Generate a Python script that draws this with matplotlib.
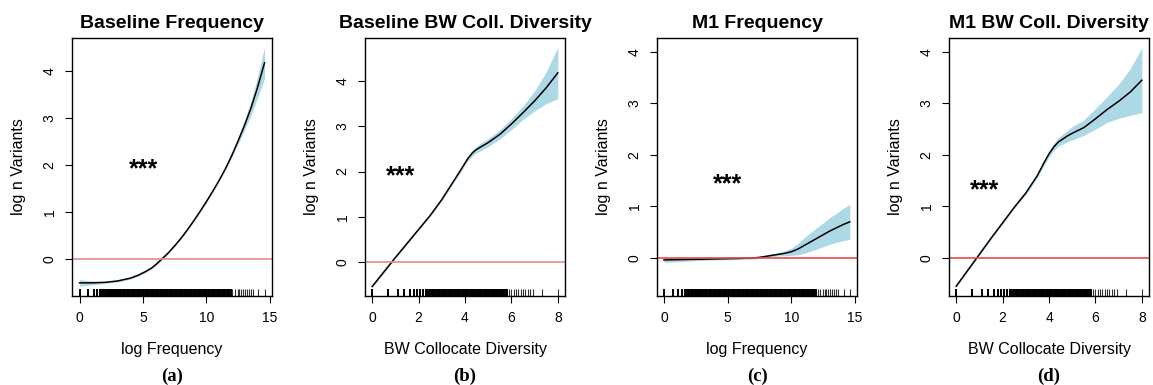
import matplotlib
matplotlib.use("Agg")
import matplotlib.pyplot as plt
import numpy as np

plt.rcParams['font.family'] = ['Liberation Sans', 'DejaVu Sans']

# panel (a) Baseline Frequency
a_x = [0, 1, 2, 3, 4, 4.6, 5.2, 5.7, 6.1, 6.5, 7, 7.5, 8, 8.5, 9, 9.5, 10, 10.5, 11, 11.5, 12, 12.5, 13, 13.5, 14, 14.58]
a_y = [-0.51, -0.51, -0.5, -0.47, -0.41, -0.35, -0.27, -0.19, -0.1, 0.0, 0.13, 0.28, 0.44, 0.62, 0.81, 1.01, 1.22, 1.44, 1.67, 1.92, 2.2, 2.51, 2.84, 3.2, 3.62, 4.17]
a_hw = [0.07, 0.04, 0.02, 0.02, 0.02, 0.02, 0.02, 0.02, 0.02, 0.02, 0.02, 0.02, 0.02, 0.02, 0.02, 0.02, 0.02, 0.02, 0.02, 0.03, 0.04, 0.06, 0.1, 0.15, 0.22, 0.33]

# panel (b) Baseline BW Coll. Diversity
b_x = [0, 0.5, 1, 1.5, 2, 2.5, 3, 3.5, 3.8, 4.1, 4.3, 4.45, 4.6, 4.8, 5, 5.5, 6, 6.5, 7, 7.5, 8]
b_y = [-0.54, -0.22, 0.1, 0.41, 0.72, 1.03, 1.38, 1.78, 2.02, 2.27, 2.4, 2.47, 2.52, 2.58, 2.64, 2.82, 3.05, 3.3, 3.56, 3.85, 4.18]
b_hw = [0.02, 0.02, 0.02, 0.02, 0.02, 0.02, 0.02, 0.03, 0.04, 0.05, 0.06, 0.07, 0.08, 0.085, 0.09, 0.1, 0.12, 0.15, 0.22, 0.35, 0.57]

# panel (c) M1 Frequency
c_x = [0, 1, 2, 3, 4, 5, 6, 7, 7.5, 8, 8.5, 9, 9.5, 10, 10.5, 11, 11.5, 12, 12.5, 13, 13.5, 14, 14.58]
c_y = [-0.04, -0.035, -0.03, -0.025, -0.02, -0.015, -0.01, 0.0, 0.01, 0.03, 0.05, 0.07, 0.09, 0.12, 0.17, 0.24, 0.31, 0.38, 0.45, 0.52, 0.58, 0.64, 0.7]
c_hw = [0.05, 0.04, 0.03, 0.025, 0.02, 0.02, 0.02, 0.02, 0.02, 0.02, 0.03, 0.03, 0.05, 0.07, 0.11, 0.15, 0.18, 0.21, 0.23, 0.26, 0.28, 0.31, 0.34]

# panel (d) M1 BW Coll. Diversity
d_x = [0, 0.5, 1, 1.5, 2, 2.5, 3, 3.5, 3.8, 4.0, 4.2, 4.4, 4.6, 4.8, 5, 5.5, 6, 6.5, 7, 7.5, 8]
d_y = [-0.55, -0.24, 0.07, 0.38, 0.68, 0.98, 1.26, 1.6, 1.86, 2.02, 2.15, 2.25, 2.31, 2.37, 2.42, 2.53, 2.7, 2.88, 3.04, 3.22, 3.45]
d_hw = [0.02, 0.02, 0.02, 0.02, 0.02, 0.02, 0.03, 0.04, 0.05, 0.06, 0.07, 0.08, 0.1, 0.11, 0.13, 0.15, 0.2, 0.25, 0.33, 0.45, 0.63]

# rug values (observed predictor values)
freq_rug = [0, 0.69, 1.1, 1.39, 1.61, 1.79, 1.95, 2.08, 2.2, 2.3, 2.4, 2.48, 2.56, 2.64, 2.71, 2.77,
            2.83, 2.89, 2.94, 3.0, 3.1, 3.2, 3.3, 3.4, 3.5, 3.6, 3.7, 3.8, 3.9, 4.0, 4.1, 4.2, 4.3,
            4.4, 4.5, 4.6, 4.7, 4.8, 4.9, 5.0, 5.1, 5.2, 5.3, 5.4, 5.5, 5.6, 5.7, 5.8, 5.9, 6.0,
            6.1, 6.2, 6.3, 6.4, 6.5, 6.6, 6.7, 6.8, 6.9, 7.0, 7.1, 7.2, 7.3, 7.4, 7.5, 7.6, 7.7,
            7.8, 7.9, 8.0, 8.1, 8.2, 8.3, 8.4, 8.5, 8.6, 8.7, 8.8, 8.9, 9.0, 9.1, 9.2, 9.3, 9.4,
            9.5, 9.6, 9.7, 9.8, 9.9, 10.0, 10.1, 10.2, 10.3, 10.4, 10.5, 10.6, 10.7, 10.8, 10.9,
            11.0, 11.1, 11.2, 11.3, 11.4, 11.5, 11.6, 11.7, 11.8, 11.9]
freq_rug_sparse = [12.05, 12.25, 12.45, 12.6, 12.75, 12.9, 13.05, 13.2, 13.35, 13.5, 13.65, 14.1, 14.6]
div_rug = [0, 0.69, 1.1, 1.39, 1.61, 1.79, 1.95, 2.08, 2.2, 2.3, 2.4, 2.48, 2.56, 2.64, 2.71, 2.77,
           2.83, 2.89, 2.94, 3.0, 3.04, 3.1, 3.15, 3.2, 3.25, 3.3, 3.35, 3.4, 3.45, 3.5, 3.55,
           3.6, 3.65, 3.7, 3.75, 3.8, 3.85, 3.9, 3.95, 4.0, 4.05, 4.1, 4.15, 4.2, 4.25, 4.3, 4.35,
           4.4, 4.45, 4.5, 4.55, 4.6, 4.65, 4.7, 4.75, 4.8, 4.85, 4.9, 4.95, 5.0, 5.05, 5.1, 5.15,
           5.2, 5.25, 5.3, 5.35, 5.4, 5.45, 5.5, 5.55, 5.6, 5.65, 5.7, 5.75, 5.8]
div_rug_sparse = [5.9, 6.0, 6.1, 6.2, 6.3, 6.4, 6.5, 6.6, 6.7, 6.8, 6.95, 7.3, 8.0]

titles = ["Baseline Frequency", "Baseline BW Coll. Diversity", "M1 Frequency", "M1 BW Coll. Diversity"]
xlabels = ["log Frequency", "BW Collocate Diversity", "log Frequency", "BW Collocate Diversity"]
sublabels = ["(a)", "(b)", "(c)", "(d)"]
star_pos = [(5, 1.9), (1.2, 1.9), (5, 1.42), (1.2, 1.32)]

curves = [(a_x, a_y, a_hw), (b_x, b_y, b_hw), (c_x, c_y, c_hw), (d_x, d_y, d_hw)]
rugs = [(freq_rug, freq_rug_sparse), (div_rug, div_rug_sparse),
        (freq_rug, freq_rug_sparse), (div_rug, div_rug_sparse)]
xticks = [[0, 5, 10, 15], [0, 2, 4, 6, 8], [0, 5, 10, 15], [0, 2, 4, 6, 8]]
xlims = [(-0.6, 15.17), (-0.31, 8.31), (-0.55, 15.15), (-0.31, 8.31)]
ylims = [(-0.79, 4.7), (-0.75, 4.95), (-0.74, 4.27), (-0.74, 4.27)]
zero_col = ['#e58a8a', '#e58a8a', '#e34b4b', '#e34b4b']
lefts = [72, 365, 657, 949]

W, H = 1153, 385
fig = plt.figure(figsize=(W / 100, H / 100), dpi=100)

for i in range(4):
    ax = fig.add_axes([lefts[i] / W, (H - 296) / H, 200 / W, 258 / H])
    x, y, hw = curves[i]
    x = np.array(x); y = np.array(y); hw = np.array(hw)
    ax.fill_between(x, y - hw, y + hw, color='#add8e6', lw=0)
    ax.plot(x, y, color='black', lw=1.1)
    ax.axhline(0, color=zero_col[i], lw=1.2)
    # rug along the bottom
    dense, sparse = rugs[i]
    ax.vlines(dense, 0, 0.027, transform=ax.get_xaxis_transform(), color='black', lw=1.4)
    ax.vlines(sparse, 0, 0.027, transform=ax.get_xaxis_transform(), color='#333333', lw=0.8)
    ax.text(star_pos[i][0], star_pos[i][1], '***', fontsize=18, fontweight='bold',
            ha='center', va='center')
    ax.set_xlim(xlims[i])
    ax.set_ylim(ylims[i])
    ax.set_xticks(xticks[i])
    ax.set_yticks([0, 1, 2, 3, 4])
    ax.tick_params(direction='out', length=5, width=0.8, labelsize=10, pad=6)
    ax.tick_params(axis='y', labelrotation=90)
    for lab in ax.get_yticklabels():
        lab.set_verticalalignment('center')
    for s in ax.spines.values():
        s.set_linewidth(1.0)
    ax.set_title(titles[i], fontsize=14, fontweight='bold', pad=7)
    ax.set_xlabel(xlabels[i], fontsize=11.5, labelpad=12)
    ax.set_ylabel("log n Variants", fontsize=11.5, labelpad=12)
    fig.text((lefts[i] + 100) / W, 0.022, sublabels[i], fontsize=13.5, fontweight='bold',
             family='Liberation Serif', ha='center', va='center')

plt.savefig("out.png", dpi=100)
